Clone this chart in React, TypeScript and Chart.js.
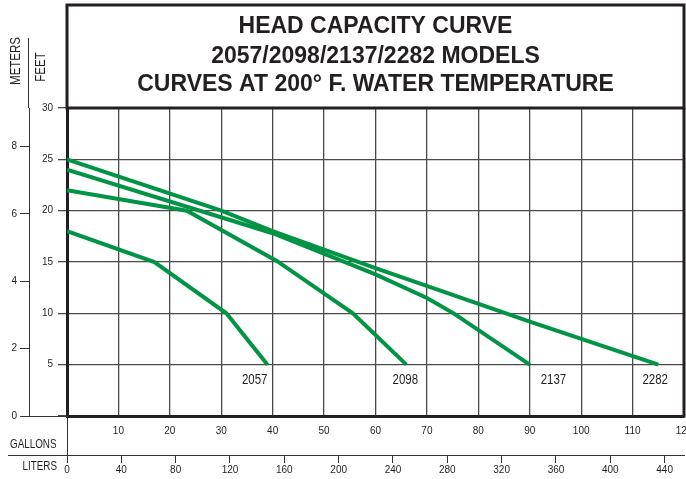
import React, { useEffect, useRef } from 'react';
import { Chart, registerables } from 'chart.js';

Chart.register(...registerables);

// ---- data (gallons per minute vs. feet of head) ----
const MODELS = ['2057', '2098', '2137', '2282'];
const GPM_2057 = [0, 17, 31, 39];
const FEET_2057 = [18, 15, 10, 5];
const GPM_2098 = [0, 23.3, 40.8, 55.6, 66];
const FEET_2098 = [22, 20, 15.1, 10, 5];
const GPM_2137 = [0, 40, 60, 70, 75.2, 90];
const FEET_2137 = [24, 17.8, 13.8, 11.5, 10, 5];
const GPM_2282 = [0, 30, 40, 60, 90, 115];
const FEET_2282 = [25, 20, 18, 14.4, 9.2, 5];

// model-name annotations (in data units)
const MODEL_LABEL_GPM = [36.5, 65.8, 94.6, 114.4];
const MODEL_LABEL_FEET = 3.5;

// tick labels
const GALLON_TICKS = [0, 10, 20, 30, 40, 50, 60, 70, 80, 90, 100, 110, 120];
const LITER_TICKS = [0, 40, 80, 120, 160, 200, 240, 280, 320, 360, 400, 440];
const FEET_TICKS = [0, 5, 10, 15, 20, 25, 30];
const METER_TICKS = [0, 2, 4, 6, 8];

const GALLON_MAX = 120;
const FEET_MAX = 30;
const LITERS_PER_GALLON = 3.78541;
const FEET_PER_METER = 3.28084;

const TITLE_LINES = [
  'HEAD CAPACITY CURVE',
  '2057/2098/2137/2282 MODELS',
  'CURVES AT 200\u00B0 F. WATER TEMPERATURE',
];

const GREEN = '#009444';
const INK = '#231f20';
const GRID = '#4a4a4a';
const SANS = '"Liberation Sans", Arial, sans-serif';
const NARROW_X = 0.82;

const toPoints = (xs: number[], ys: number[]) => xs.map((x, i) => ({ x, y: ys[i] }));

const SERIES = [
  toPoints(GPM_2057, FEET_2057),
  toPoints(GPM_2098, FEET_2098),
  toPoints(GPM_2137, FEET_2137),
  toPoints(GPM_2282, FEET_2282),
];

function narrowText(ctx: CanvasRenderingContext2D, text: string, x: number, y: number, rotate = 0) {
  ctx.save();
  ctx.translate(x, y);
  if (rotate) ctx.rotate(rotate);
  ctx.scale(NARROW_X, 1);
  ctx.fillText(text, 0, 0);
  ctx.restore();
}

const decor = {
  id: 'decor',
  afterDraw(chart: any) {
    const { ctx, chartArea: ca, scales } = chart;
    const x = scales.x;
    const y = scales.y;
    const x2 = scales.x2;
    const y2 = scales.y2;
    ctx.save();

    // title box + right border
    ctx.strokeStyle = INK;
    ctx.lineWidth = 3;
    ctx.strokeRect(ca.left, 5, ca.right - ca.left, ca.top - 5);
    ctx.beginPath();
    ctx.moveTo(ca.right, ca.top);
    ctx.lineTo(ca.right, ca.bottom + 1.5);
    ctx.stroke();

    // title text
    ctx.fillStyle = INK;
    ctx.font = 'bold 23px ' + SANS;
    ctx.textAlign = 'center';
    ctx.textBaseline = 'alphabetic';
    const cx = (ca.left + ca.right) / 2;
    const baselines = [33, 63, 91];
    TITLE_LINES.forEach((t, i) => ctx.fillText(t, cx, baselines[i]));

    // meters axis extension and zero line
    ctx.strokeStyle = '#333';
    ctx.lineWidth = 1;
    ctx.beginPath();
    ctx.moveTo(y2.right - 0.5, 38);
    ctx.lineTo(y2.right - 0.5, ca.top);
    ctx.moveTo(y2.right, ca.bottom + 0.5);
    ctx.lineTo(ca.left, ca.bottom + 0.5);
    ctx.stroke();

    // liters axis extension
    ctx.beginPath();
    ctx.moveTo(8, x2.top + 0.5);
    ctx.lineTo(ca.left, x2.top + 0.5);
    ctx.moveTo(ca.left + 0.5, ca.bottom);
    ctx.lineTo(ca.left + 0.5, x2.top + 8);
    ctx.stroke();

    // axis titles
    ctx.fillStyle = INK;
    ctx.font = '14px ' + SANS;
    ctx.textAlign = 'center';
    ctx.textBaseline = 'alphabetic';
    narrowText(ctx, 'METERS', 20, 61, -Math.PI / 2);
    narrowText(ctx, 'FEET', 45, 67, -Math.PI / 2);

    ctx.font = '12px ' + SANS;
    ctx.textAlign = 'left';
    narrowText(ctx, 'GALLONS', 10, 448);
    ctx.textAlign = 'right';
    narrowText(ctx, 'LITERS', 57, 470);

    // model labels
    ctx.font = '14px ' + SANS;
    ctx.textAlign = 'center';
    ctx.textBaseline = 'middle';
    MODELS.forEach((m, i) => {
      narrowText(ctx, m, x.getPixelForValue(MODEL_LABEL_GPM[i]), y.getPixelForValue(MODEL_LABEL_FEET));
    });

    ctx.restore();
  },
};

export default function App() {
  const ref = useRef<HTMLCanvasElement>(null);

  useEffect(() => {
    document.body.style.margin = '0';
    const canvas = ref.current!;
    const chart = new Chart(canvas, {
      type: 'scatter',
      data: {
        datasets: SERIES.map((pts, i) => ({
          label: MODELS[i],
          data: pts,
          showLine: true,
          borderColor: GREEN,
          backgroundColor: GREEN,
          borderWidth: 4,
          pointRadius: 0,
          pointHoverRadius: 0,
          tension: 0,
          borderCapStyle: 'butt',
          borderJoinStyle: 'miter',
          xAxisID: 'x',
          yAxisID: 'y',
        })),
      },
      options: {
        animation: false,
        responsive: false,
        maintainAspectRatio: false,
        devicePixelRatio: 1,
        layout: { padding: { left: 0, right: 2, top: 108, bottom: 0 } },
        plugins: {
          legend: { display: false },
          tooltip: { enabled: false },
          title: { display: false },
        },
        scales: {
          x: {
            type: 'linear',
            position: 'bottom',
            weight: 0,
            min: 0,
            max: GALLON_MAX,
            afterBuildTicks: (s: any) => {
              s.ticks = GALLON_TICKS.map((v) => ({ value: v }));
            },
            afterFit: (s: any) => {
              s.height = 39;
              s.paddingLeft = 0;
              s.paddingRight = 0;
            },
            grid: { color: GRID, lineWidth: 1.3, drawTicks: false },
            border: { display: true, color: INK, width: 3 },
            ticks: {
              padding: 9,
              maxRotation: 0,
              autoSkip: false,
              color: INK,
              font: { family: SANS, size: 10 },
              callback: (v: any) => (v === 0 ? '' : String(v)),
            },
          },
          x2: {
            type: 'linear',
            position: 'bottom',
            weight: 10,
            min: 0,
            max: GALLON_MAX * LITERS_PER_GALLON,
            afterBuildTicks: (s: any) => {
              s.ticks = LITER_TICKS.map((v) => ({ value: v }));
            },
            afterFit: (s: any) => {
              s.height = 24;
              s.paddingLeft = 0;
              s.paddingRight = 0;
            },
            grid: { drawOnChartArea: false, color: '#333', lineWidth: 1, tickLength: 8 },
            border: { display: true, color: '#333', width: 1 },
            ticks: {
              padding: 1,
              maxRotation: 0,
              autoSkip: false,
              color: INK,
              font: { family: SANS, size: 10 },
              callback: (v: any) => String(v),
            },
          },
          y: {
            type: 'linear',
            position: 'left',
            weight: 0,
            min: 0,
            max: FEET_MAX,
            afterBuildTicks: (s: any) => {
              s.ticks = FEET_TICKS.map((v) => ({ value: v }));
            },
            afterFit: (s: any) => {
              s.width = 38;
              s.paddingTop = 0;
              s.paddingBottom = 0;
            },
            grid: { color: GRID, lineWidth: 1.3, tickLength: 9 },
            border: { display: true, color: INK, width: 3 },
            ticks: {
              padding: 5,
              color: INK,
              font: { family: SANS, size: 10 },
              callback: (v: any) => (v === 0 ? '' : String(v)),
            },
          },
          y2: {
            type: 'linear',
            position: 'left',
            weight: 10,
            min: 0,
            max: FEET_MAX / FEET_PER_METER,
            afterBuildTicks: (s: any) => {
              s.ticks = METER_TICKS.map((v) => ({ value: v }));
            },
            afterFit: (s: any) => {
              s.width = 29;
              s.paddingTop = 0;
              s.paddingBottom = 0;
            },
            grid: { drawOnChartArea: false, color: '#333', lineWidth: 1, tickLength: 9 },
            border: { display: true, color: '#333', width: 1 },
            ticks: {
              padding: 3,
              color: INK,
              font: { family: SANS, size: 10 },
              callback: (v: any) => String(v),
            },
          },
        },
      } as any,
      plugins: [decor],
    });
    return () => chart.destroy();
  }, []);

  return (
    <div style={{ position: 'absolute', left: 0, top: 0, width: 686, height: 479 }}>
      <canvas ref={ref} width={686} height={479} style={{ display: 'block', width: 686, height: 479 }} />
    </div>
  );
}
